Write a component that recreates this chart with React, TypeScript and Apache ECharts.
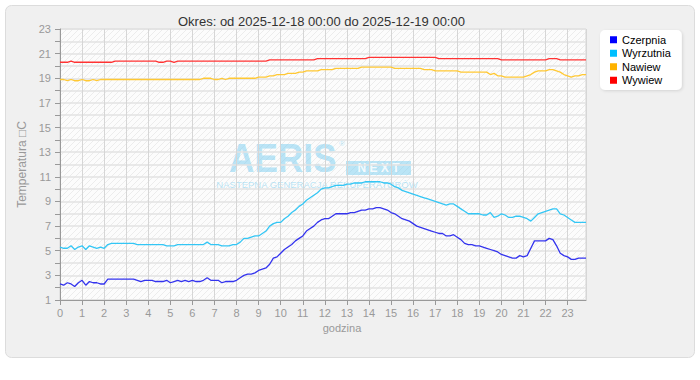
import React, { useEffect, useRef } from "react";
import * as echarts from "echarts";

const titleText = "Okres: od 2025-12-18 00:00 do 2025-12-19 00:00";
const seriesNames = ["Czerpnia", "Wyrzutnia", "Nawiew", "Wywiew"];
const seriesColors = ["#0000ff", "#00bfff", "#ffb300", "#ff0000"];
const lineColors = ["#3333ee", "#33c6f5", "#ffc833", "#ff3333"];
const stepsPerHour = 6; // 10-minute samples

const czerpnia = [
  2.3, 2.2, 2.4, 2.3, 2.1, 2.4,
  2.6, 2.2, 2.5, 2.4, 2.4, 2.3,
  2.3, 2.7, 2.7, 2.7, 2.7, 2.7,
  2.7, 2.7, 2.7, 2.6, 2.5, 2.6,
  2.6, 2.6, 2.5, 2.5, 2.5, 2.6,
  2.4, 2.5, 2.6, 2.5, 2.6, 2.5,
  2.6, 2.5, 2.5, 2.6, 2.8, 2.6,
  2.6, 2.6, 2.4, 2.5, 2.5, 2.5,
  2.6, 2.8, 3.0, 3.1, 3.1, 3.2,
  3.4, 3.5, 3.6, 3.9, 4.4, 4.5,
  4.8, 5.1, 5.3, 5.5, 5.8, 6.0,
  6.2, 6.6, 6.8, 7.0, 7.3, 7.5,
  7.6, 7.6, 7.8, 8.0, 8.0, 8.0,
  8.0, 8.1, 8.1, 8.2, 8.3, 8.3,
  8.4, 8.4, 8.5, 8.5, 8.4, 8.3,
  8.1, 8.0, 7.8, 7.6, 7.5, 7.4,
  7.2, 7.0, 6.9, 6.8, 6.7, 6.6,
  6.5, 6.4, 6.4, 6.2, 6.2, 6.3,
  6.1, 5.9, 5.6, 5.5, 5.5, 5.4,
  5.4, 5.3, 5.2, 5.1, 5.0, 4.9,
  4.7, 4.6, 4.5, 4.4, 4.4, 4.6,
  4.5, 4.6, 5.2, 5.8, 5.8, 5.8,
  5.8, 6.0, 5.9, 5.4, 4.8, 4.6,
  4.5, 4.3, 4.3, 4.4, 4.4, 4.4,
];

const wyrzutnia = [
  5.3, 5.2, 5.2, 5.4, 5.1, 5.3,
  5.4, 5.1, 5.4, 5.3, 5.2, 5.3,
  5.2, 5.5, 5.6, 5.6, 5.6, 5.6,
  5.6, 5.6, 5.6, 5.5, 5.5, 5.5,
  5.5, 5.5, 5.5, 5.5, 5.5, 5.4,
  5.4, 5.4, 5.5, 5.5, 5.5, 5.5,
  5.5, 5.5, 5.5, 5.5, 5.7, 5.5,
  5.5, 5.5, 5.4, 5.4, 5.4, 5.5,
  5.5, 5.7, 6.0, 6.0, 6.1, 6.2,
  6.2, 6.4, 6.6, 7.0, 7.2, 7.3,
  7.3, 7.6, 7.8, 8.1, 8.3, 8.6,
  8.8, 9.1, 9.3, 9.5, 9.7, 10.0,
  10.1, 10.1, 10.2, 10.3, 10.3, 10.3,
  10.4, 10.4, 10.5, 10.5, 10.5, 10.6,
  10.6, 10.6, 10.6, 10.6, 10.5, 10.5,
  10.4, 10.2, 10.1, 9.9, 9.8, 9.7,
  9.6, 9.5, 9.4, 9.3, 9.2, 9.1,
  9.0, 8.9, 8.8, 8.7, 8.8, 8.8,
  8.6, 8.4, 8.2, 8.0, 8.0, 8.0,
  8.0, 7.9, 7.9, 8.1, 7.7, 7.8,
  8.0, 7.9, 7.7, 7.7, 7.8, 7.8,
  7.7, 7.6, 7.4, 7.7, 8.0, 8.1,
  8.2, 8.3, 8.4, 8.4, 8.0, 7.9,
  7.7, 7.5, 7.3, 7.3, 7.3, 7.3,
];

const nawiew = [
  18.9, 18.9, 18.8, 18.9, 18.8, 18.8,
  18.9, 18.8, 18.8, 18.9, 18.8, 18.9,
  18.9, 18.9, 18.9, 18.9, 18.9, 18.9,
  18.9, 18.9, 18.9, 18.9, 18.9, 18.9,
  18.9, 18.9, 18.9, 18.9, 18.9, 18.9,
  18.9, 18.9, 18.9, 18.9, 18.9, 18.9,
  18.9, 18.9, 18.9, 19.0, 19.0, 19.0,
  18.9, 18.9, 19.0, 18.9, 19.0, 19.0,
  19.0, 19.0, 19.0, 19.0, 19.0, 19.0,
  19.1, 19.1, 19.1, 19.2, 19.2, 19.3,
  19.3, 19.3, 19.4, 19.4, 19.4, 19.5,
  19.5, 19.6, 19.6, 19.6, 19.6, 19.7,
  19.7, 19.7, 19.7, 19.8, 19.8, 19.8,
  19.8, 19.8, 19.8, 19.8, 19.9, 19.9,
  19.9, 19.9, 19.9, 19.9, 19.9, 19.9,
  19.9, 19.8, 19.8, 19.8, 19.8, 19.8,
  19.8, 19.8, 19.8, 19.7, 19.7, 19.7,
  19.6, 19.6, 19.6, 19.6, 19.6, 19.6,
  19.6, 19.5, 19.5, 19.5, 19.5, 19.5,
  19.5, 19.5, 19.5, 19.3, 19.4, 19.2,
  19.2, 19.1, 19.1, 19.1, 19.1, 19.1,
  19.1, 19.2, 19.3, 19.5, 19.6, 19.6,
  19.6, 19.7, 19.7, 19.6, 19.5, 19.3,
  19.2, 19.1, 19.2, 19.2, 19.3, 19.3,
];

const wywiew = [
  20.3, 20.3, 20.3, 20.4, 20.3, 20.3,
  20.3, 20.3, 20.3, 20.3, 20.3, 20.3,
  20.3, 20.3, 20.3, 20.4, 20.4, 20.4,
  20.4, 20.4, 20.4, 20.4, 20.4, 20.4,
  20.4, 20.4, 20.4, 20.3, 20.3, 20.4,
  20.4, 20.3, 20.4, 20.4, 20.4, 20.4,
  20.4, 20.4, 20.4, 20.4, 20.4, 20.4,
  20.4, 20.4, 20.4, 20.4, 20.4, 20.4,
  20.4, 20.4, 20.4, 20.4, 20.4, 20.4,
  20.4, 20.4, 20.4, 20.5, 20.5, 20.5,
  20.5, 20.5, 20.5, 20.5, 20.5, 20.5,
  20.5, 20.5, 20.5, 20.5, 20.6, 20.6,
  20.6, 20.6, 20.6, 20.6, 20.6, 20.6,
  20.6, 20.6, 20.6, 20.6, 20.6, 20.6,
  20.7, 20.7, 20.7, 20.7, 20.7, 20.7,
  20.7, 20.7, 20.7, 20.7, 20.7, 20.7,
  20.7, 20.7, 20.7, 20.7, 20.7, 20.7,
  20.7, 20.6, 20.6, 20.6, 20.6, 20.6,
  20.6, 20.6, 20.6, 20.6, 20.6, 20.6,
  20.6, 20.6, 20.6, 20.6, 20.6, 20.6,
  20.5, 20.5, 20.5, 20.5, 20.5, 20.5,
  20.5, 20.5, 20.5, 20.5, 20.5, 20.5,
  20.5, 20.6, 20.6, 20.6, 20.5, 20.5,
  20.5, 20.5, 20.5, 20.5, 20.5, 20.5,
];

const seriesValues = [czerpnia, wyrzutnia, nawiew, wywiew];
const yMin = 1;
const yMax = 23;
const xMin = 0;
const xMax = 143 / stepsPerHour;

const FONT = "'Liberation Sans', Arial, sans-serif";

function makeHatch(): HTMLCanvasElement {
  const c = document.createElement("canvas");
  c.width = 6;
  c.height = 6;
  const ctx = c.getContext("2d")!;
  ctx.fillStyle = "#fcfcfc";
  ctx.fillRect(0, 0, 6, 6);
  ctx.strokeStyle = "#ececec";
  ctx.lineWidth = 1;
  ctx.beginPath();
  ctx.moveTo(-1, 7);
  ctx.lineTo(7, -1);
  ctx.moveTo(-4, 4);
  ctx.lineTo(4, -4);
  ctx.moveTo(2, 10);
  ctx.lineTo(10, 2);
  ctx.stroke();
  return c;
}

export default function App() {
  const ref = useRef<HTMLDivElement>(null);
  useEffect(() => {
    document.body.style.margin = "0";
    document.body.style.background = "#ffffff";
    const chart = echarts.init(ref.current!, undefined, { renderer: "svg" });
    const hatch = makeHatch();
    const watermarkColor = "rgba(120, 205, 240, 0.5)";
    chart.setOption({
      animation: false,
      textStyle: { fontFamily: FONT },
      title: {
        text: titleText,
        left: 173,
        top: 10,
        textStyle: { fontSize: 13, fontWeight: "normal", color: "#333", fontFamily: FONT },
      },
      legend: {
        orient: "vertical",
        left: 600,
        top: 30,
        padding: [3, 11, 3, 10],
        itemWidth: 7,
        itemHeight: 7,
        itemGap: 0,
        icon: "rect",
        backgroundColor: "#ffffff",
        borderRadius: 5,
        shadowColor: "rgba(0,0,0,0.12)",
        shadowBlur: 3,
        shadowOffsetX: 1,
        shadowOffsetY: 1,
        textStyle: { fontSize: 11, color: "#000", fontFamily: FONT, lineHeight: 13.5, padding: [0, 0, 0, 0] },
        data: seriesNames,
      },
      grid: {
        left: 60,
        right: 114,
        top: 29,
        bottom: 80,
        show: true,
        backgroundColor: { image: hatch, repeat: "repeat" },
        borderColor: "#d4d4d4",
        borderWidth: 1,
      },
      xAxis: {
        type: "value",
        min: xMin,
        max: xMax,
        interval: 1,
        name: "godzina",
        nameLocation: "middle",
        nameGap: 20,
        nameTextStyle: { fontSize: 11, color: "#999", padding: [0, 0, 0, 38] },
        axisLine: { show: true, lineStyle: { color: "#999" } },
        axisTick: { show: true, length: 5, lineStyle: { color: "#999" } },
        axisLabel: {
          fontSize: 11,
          color: "#999",
          margin: 7,
          showMaxLabel: false,
          formatter: (v: number) => (Number.isInteger(v) ? String(v) : ""),
        },
        splitLine: { show: true, lineStyle: { color: "#d6d6d6", width: 1 } },
      },
      yAxis: {
        type: "value",
        min: yMin,
        max: yMax,
        interval: 1,
        name: "Temperatura \u25A1C",
        nameLocation: "middle",
        nameGap: 26,
        nameTextStyle: { fontSize: 12, color: "#999" },
        axisLine: { show: true, lineStyle: { color: "#999" } },
        axisTick: { show: true, length: 5, lineStyle: { color: "#999" } },
        axisLabel: {
          fontSize: 11,
          color: "#999",
          margin: 9,
          formatter: (v: number) => (Math.round(v) % 2 === 1 ? String(v) : ""),
        },
        splitLine: { show: true, lineStyle: { color: "#e3e3e3", width: 1.5 } },
      },
      graphic: [
        {
          type: "rect",
          z: -10,
          silent: true,
          shape: { x: 5.5, y: 5.5, width: 689, height: 352, r: 6 },
          style: { fill: "#f0f0f0", stroke: "#dcdcdc", lineWidth: 1 },
        },
        {
          type: "group",
          silent: true,
          z: 1,
          children: [
            {
              type: "text",
              x: 229,
              y: 138,
              scaleX: 0.88,
              style: {
                text: "AERIS",
                font: "bold 40px 'Liberation Sans', Arial, sans-serif",
                fill: watermarkColor,
              },
            },
            {
              type: "text",
              x: 339,
              y: 139,
              style: { text: "\u00AE", font: "8px 'Liberation Sans', Arial, sans-serif", fill: watermarkColor },
            },
            {
              type: "rect",
              shape: { x: 346, y: 161, width: 65, height: 14 },
              style: { fill: watermarkColor },
            },
            {
              type: "text",
              x: 378.5,
              y: 168,
              style: {
                text: "N E X T",
                font: "bold 12px 'Liberation Sans', Arial, sans-serif",
                fill: "rgba(255,255,255,0.85)",
                align: "center",
                verticalAlign: "middle",
              },
            },
            {
              type: "text",
              x: 317,
              y: 184.5,
              style: {
                text: "NASTĘPNA GENERACJA REKUPERATORÓW",
                font: "9.5px 'Liberation Sans', Arial, sans-serif",
                fill: watermarkColor,
                align: "center",
                verticalAlign: "middle",
              },
            },
          ],
        },
      ],
      series: seriesNames.map((name, k) => ({
        name,
        type: "line",
        z: 3,
        showSymbol: false,
        symbol: "none",
        color: seriesColors[k],
        lineStyle: { color: lineColors[k], width: 1.3 },
        data: seriesValues[k].map((v, i) => [i / stepsPerHour, v]),
      })),
    });
    return () => chart.dispose();
  }, []);
  return <div ref={ref} style={{ width: 700, height: 380 }} />;
}
